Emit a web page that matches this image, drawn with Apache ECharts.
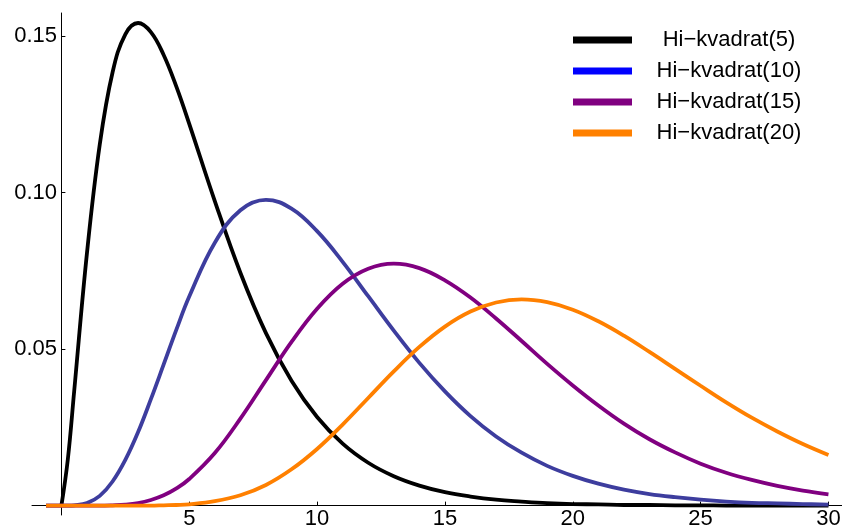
<!DOCTYPE html>
<html>
<head>
<meta charset="utf-8">
<script src="https://cdn.jsdelivr.net/npm/echarts@6/dist/echarts.min.js"></script>
<style>
  html, body { margin: 0; padding: 0; background: #fff; }
  #chart { width: 842px; height: 531px; }
</style>
</head>
<body>
<div id="chart"></div>
<script>
const xs = [-0.6, 0, 0.25, 0.5, 1, 1.5, 2, 2.5, 3, 3.5, 4, 4.5,
  5, 6, 7, 8, 9, 10, 11, 12, 13, 14, 15, 16, 17, 18, 19, 20,
  21, 22, 23, 24, 25, 26, 27, 28, 29, 30]

const names = ['Hi\u2212kvadrat(5)', 'Hi\u2212kvadrat(10)', 'Hi\u2212kvadrat(15)', 'Hi\u2212kvadrat(20)']

// black curve is hidden under the orange one left of 0, so it starts at the origin
const chi5 = [null, 0, 0.0147, 0.0366, 0.0807, 0.1154, 0.1384, 0.1506, 0.1542, 0.1513, 0.1440, 0.1338,
  0.1220, 0.0973, 0.0744, 0.0551, 0.0399, 0.0283, 0.0198, 0.0137, 0.0094, 0.0064, 0.0043, 0.0029, 0.0019, 0.0013, 0.0008, 0.0005,
  0.0004, 0.0002, 0.0002, 0.0001, 0.0001, 0, 0, 0, 0, 0]
const chi10 = [0, 0, 0, 0.0001, 0.0008, 0.0031, 0.0077, 0.0146, 0.0235, 0.0340, 0.0451, 0.0563,
  0.0668, 0.0840, 0.0944, 0.0977, 0.0949, 0.0877, 0.0779, 0.0669, 0.0559, 0.0456, 0.0365, 0.0286, 0.0221, 0.0169, 0.0127, 0.0095,
  0.0070, 0.0051, 0.0037, 0.0027, 0.0019, 0.0013, 0.0009, 0.0007, 0.0005, 0.0003]
const chi15 = [0, 0, 0, 0, 0, 0, 0.0001, 0.0003, 0.0008, 0.0018, 0.0033, 0.0055,
  0.0085, 0.0168, 0.0278, 0.0401, 0.0523, 0.0629, 0.0709, 0.0757, 0.0773, 0.0759, 0.0720, 0.0665, 0.0598, 0.0526, 0.0453, 0.0384,
  0.0320, 0.0262, 0.0212, 0.0170, 0.0134, 0.0105, 0.0082, 0.0063, 0.0048, 0.0036]
const chi20 = [0, 0, 0, 0, 0, 0, 0, 0, 0, 0, 0.0001, 0.0002,
  0.0004, 0.0014, 0.0033, 0.0066, 0.0116, 0.0181, 0.0259, 0.0344, 0.0429, 0.0507, 0.0572, 0.0620, 0.0649, 0.0659, 0.0650, 0.0626,
  0.0589, 0.0543, 0.0491, 0.0437, 0.0383, 0.0330, 0.0281, 0.0237, 0.0197, 0.0162]

const xTicks = [5, 10, 15, 20, 25, 30]
const yTicks = [0.05, 0.10, 0.15]

// line colour on the plot / colour of the legend swatch
const lineColors = ['#000000', '#3d3d9e', '#800080', '#ff8000']
const legendColors = ['#000000', '#0000ff', '#800080', '#ff8000']

const font = 'Liberation Sans, Arial, sans-serif'

function pairs(ys) {
    let out = []
    for (let i = 0; i < xs.length; i++) {
        if (ys[i] !== null) out.push([xs[i], ys[i]])
    }
    return out
}

const allY = [chi5, chi10, chi15, chi20]

let chart = echarts.init(document.getElementById('chart'), null, {renderer: 'canvas'})

// axes cross at the origin; labels sit at the grid edge in v6, so pull them in with negative margins
chart.setOption({
    animation: false,
    backgroundColor: '#fff',
    grid: {left: 32, right: 0, top: 13, bottom: 16, containLabel: false, outerBoundsMode: 'none'},
    legend: {
        orient: 'vertical',
        left: 568,
        top: 24,
        icon: 'rect',
        itemWidth: 59,
        itemHeight: 7,
        itemGap: 9,
        data: names.map((n, i) => ({name: n, itemStyle: {color: legendColors[i]}})),
        formatter: n => '{a|' + n + '}',
        textStyle: {
            rich: {a: {width: 184, align: 'center', fontSize: 22, fontFamily: font, color: '#000'}}
        }
    },
    xAxis: {
        type: 'value',
        min: -1.15,
        max: 30.53,
        splitLine: {show: false},
        axisLine: {onZero: true, lineStyle: {color: '#000', width: 1}},
        axisTick: {show: true, inside: true, length: 4, customValues: xTicks, lineStyle: {color: '#000'}},
        axisLabel: {customValues: xTicks, margin: -7, fontSize: 22, fontFamily: font, color: '#000'}
    },
    yAxis: {
        type: 'value',
        min: -0.003,
        max: 0.1574,
        splitLine: {show: false},
        axisLine: {show: true, onZero: true, lineStyle: {color: '#000', width: 1}},
        axisTick: {show: true, inside: true, length: 4, customValues: yTicks, lineStyle: {color: '#000'}},
        axisLabel: {
            customValues: yTicks, margin: -25, fontSize: 22, fontFamily: font, color: '#000',
            formatter: v => v.toFixed(2)
        }
    },
    series: allY.map((ys, i) => ({
        name: names[i],
        type: 'line',
        data: pairs(ys),
        showSymbol: false,
        smooth: 0.4,
        itemStyle: {color: legendColors[i]},
        lineStyle: {color: lineColors[i], width: 3.8}
    }))
})
</script>
</body>
</html>
